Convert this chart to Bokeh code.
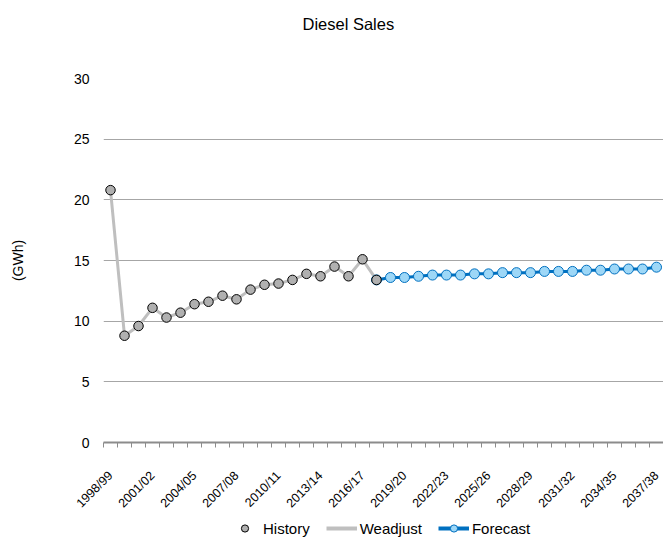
import math
from bokeh.plotting import figure
from bokeh.layouts import column
from bokeh.models import Range1d, FixedTicker, Legend, LegendItem
from bokeh.embed import file_html
from bokeh.resources import INLINE

categories = [f"{y}/{str(y + 1)[-2:]}" for y in range(1998, 2038)]
history = [20.8, 8.8, 9.6, 11.1, 10.3, 10.7, 11.4, 11.6, 12.1, 11.8,
           12.6, 13.0, 13.1, 13.4, 13.9, 13.7, 14.5, 13.7, 15.1, 13.4]
weadjust = [20.8, 8.8, 9.6, 11.1, 10.3, 10.7, 11.4, 11.6, 12.1, 11.8,
            12.6, 13.0, 13.1, 13.4, 13.9, 13.7, 14.5, 13.7, 15.1, 13.4]
forecast = [13.4, 13.6, 13.6, 13.7, 13.8, 13.8, 13.8, 13.9, 13.9, 14.0, 14.0,
            14.0, 14.1, 14.1, 14.1, 14.2, 14.2, 14.3, 14.3, 14.3, 14.45]
y_ticks = [0, 5, 10, 15, 20, 25, 30]

hist_x = list(range(len(history)))
fc_start = len(history) - 1
fc_x = list(range(fc_start, fc_start + len(forecast)))

FONT = "Liberation Sans"
GRAY_LINE = "#bfbfbf"
BLUE = "#0070c0"
LIGHT_BLUE = "#9dd7f7"
HIST_FILL = "#b0b0b0"

W = 663
TITLE_H = 48
FRAME_L = 103
FRAME_H = 365
BOTTOM = 75
MAIN_H = (78 - TITLE_H) + FRAME_H + BOTTOM
LEGEND_H = 538 - TITLE_H - MAIN_H

# ---------- title strip ----------
pt = figure(width=W, height=TITLE_H, output_backend="svg", toolbar_location=None,
            title="Diesel Sales", x_axis_location=None, y_axis_location=None,
            min_border=0, min_border_left=FRAME_L)
pt.outline_line_color = None
pt.grid.visible = False
pt.title.align = "left"
pt.title.offset = 199
pt.title.text_font = FONT
pt.title.text_font_size = "16.5px"
pt.title.text_font_style = "normal"
pt.title.text_color = "#000000"
pt.title.standoff = 24

# ---------- main chart ----------
p = figure(width=W, height=MAIN_H, output_backend="svg", toolbar_location=None,
           x_range=Range1d(-0.5, len(categories) - 0.5), y_range=Range1d(0, 30),
           min_border_left=FRAME_L, min_border_right=0, min_border_top=78 - TITLE_H,
           min_border_bottom=BOTTOM)
p.outline_line_color = None

p.xgrid.visible = False
p.ygrid.ticker = FixedTicker(ticks=y_ticks)
p.ygrid.grid_line_color = "#a6a6a6"
p.ygrid.grid_line_width = 1

p.yaxis.ticker = FixedTicker(ticks=y_ticks)
p.yaxis.axis_line_color = None
p.yaxis.major_tick_line_color = None
p.yaxis.minor_tick_line_color = None
p.yaxis.major_label_text_font = FONT
p.yaxis.major_label_text_font_size = "14px"
p.yaxis.major_label_text_color = "#000000"
p.yaxis.major_label_standoff = 8
p.yaxis.axis_label = "(GWh)"
p.yaxis.axis_label_text_font = FONT
p.yaxis.axis_label_text_font_size = "14px"
p.yaxis.axis_label_text_font_style = "normal"
p.yaxis.axis_label_text_color = "#000000"
p.yaxis.axis_label_standoff = 45

label_idx = list(range(0, len(categories), 3))
p.xaxis.ticker = FixedTicker(ticks=label_idx,
                             minor_ticks=[i - 0.5 for i in range(len(categories) + 1)])
p.xaxis.major_label_overrides = {i: categories[i] for i in label_idx}
p.xaxis.major_label_orientation = math.pi / 4
p.xaxis.major_tick_in = 0
p.xaxis.major_tick_out = 0
p.xaxis.minor_tick_in = 0
p.xaxis.minor_tick_out = 5
p.xaxis.minor_tick_line_color = "#8c8c8c"
p.xaxis.axis_line_color = "#8c8c8c"
p.xaxis.axis_line_width = 2
p.xaxis.major_label_text_font = FONT
p.xaxis.major_label_text_font_size = "12.5px"
p.xaxis.major_label_text_color = "#000000"
p.xaxis.major_label_standoff = 26

p.line(hist_x, weadjust, line_color=GRAY_LINE, line_width=3)
p.line(fc_x, forecast, line_color=BLUE, line_width=3)
p.scatter(fc_x, forecast, size=10, marker="circle",
          fill_color=LIGHT_BLUE, line_color=BLUE, line_width=1)
p.scatter(hist_x, history, size=9.5, marker="circle",
          fill_color=HIST_FILL, line_color="#000000", line_width=1)

# ---------- legend strip (series drawn out of view; only the legend shows) ----------
pl = figure(width=W, height=LEGEND_H, output_backend="svg", toolbar_location=None,
            x_axis_location=None, y_axis_location=None, min_border=0,
            min_border_left=FRAME_L,
            x_range=Range1d(-0.5, len(categories) - 0.5), y_range=Range1d(-100, -99))
pl.outline_line_color = None
pl.grid.visible = False
lh = pl.scatter(hist_x, history, size=7, marker="circle", fill_color=HIST_FILL,
                line_color="#000000", line_width=1)
lw = pl.line(hist_x, weadjust, line_color=GRAY_LINE, line_width=4)
lf1 = pl.line(fc_x, forecast, line_color=BLUE, line_width=4)
lf2 = pl.scatter(fc_x, forecast, size=10, marker="circle", fill_color=LIGHT_BLUE,
                 line_color=BLUE, line_width=1)
legend = Legend(items=[
    LegendItem(label="History", renderers=[lh]),
    LegendItem(label="Weadjust", renderers=[lw]),
    LegendItem(label="Forecast", renderers=[lf1, lf2]),
], orientation="horizontal", location=(229 - FRAME_L, 1))
legend.label_text_font = FONT
legend.label_text_font_size = "15px"
legend.label_text_color = "#000000"
legend.border_line_color = None
legend.background_fill_alpha = 0
legend.glyph_width = 31
legend.glyph_height = 18
legend.label_height = 14
legend.spacing = 16
legend.label_standoff = 3
legend.margin = 0
legend.padding = 0
pl.add_layout(legend, "center")

open("out.html", "w").write(file_html(column(pt, p, pl, spacing=0), INLINE))
